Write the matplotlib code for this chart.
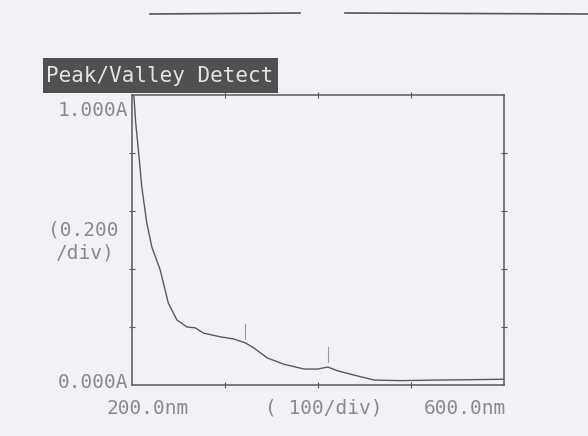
import matplotlib.pyplot as plt
from matplotlib.patches import Rectangle

# spectrum
wavelength = [200, 202, 204, 207.6, 210.5, 215.9, 221.3, 230.3, 239, 248.3, 259.1, 268,
              276.8, 295, 309, 322, 331, 345.6, 363, 385, 399.7, 410.5, 421, 439, 460.5,
              489.7, 525, 560, 600]
absorbance = [1.0, 1.0, 0.903, 0.786, 0.683, 0.559, 0.476, 0.397, 0.283, 0.224, 0.2, 0.197,
              0.179, 0.166, 0.159, 0.145, 0.128, 0.093, 0.072, 0.055, 0.055, 0.062, 0.049,
              0.034, 0.017, 0.015, 0.017, 0.018, 0.02]
peaks = [322, 411]
peak_marks = [(0.16, 0.21), (0.08, 0.13)]

ink = '#5a5a5a'
txt = '#8a8a8a'
mono = 'DejaVu Sans Mono'

fig = plt.figure(figsize=(5.88, 4.36), dpi=100)
fig.patch.set_facecolor('#f2f2f6')
ax = fig.add_axes([132/588, 51/436, 372/588, 290/436])
ax.set_facecolor('#f2f2f6')

ax.plot(wavelength, absorbance, color=ink, lw=1.0)
for p, (lo, hi) in zip(peaks, peak_marks):
    ax.plot([p, p], [lo, hi], color='#9a9a9a', lw=0.8)

ax.set_xlim(200, 600)
ax.set_ylim(0, 1.0)
ax.set_xticks([300, 400, 500])
ax.set_yticks([0.2, 0.4, 0.6, 0.8])
ax.tick_params(direction='inout', length=5, width=0.8, color=ink,
               top=True, right=True, labelleft=False, labelbottom=False)
for s in ax.spines.values():
    s.set_color(ink)
    s.set_linewidth(1.1)

# header box
fig.add_artist(Rectangle((43/588, 1 - 93/436), 235/588, 35/436,
                         transform=fig.transFigure, fc='#505050', ec='none'))
fig.text(160/588, 1 - 76/436, 'Peak/Valley Detect', fontsize=15, family=mono,
         color='#e4e4e4', va='center', ha='center')

# printer-style labels
lab = dict(fontsize=14, family=mono, color=txt, va='center')
fig.text(128/588, 1 - 110/436, '1.000A', ha='right', **lab)
fig.text(48/588, 1 - 230/436, '(0.200', ha='left', **lab)
fig.text(55/588, 1 - 253/436, '/div)', ha='left', **lab)
fig.text(128/588, 1 - 382/436, '0.000A', ha='right', **lab)
fig.text(106/588, 1 - 408/436, '200.0nm', ha='left', **lab)
fig.text(265/588, 1 - 408/436, '( 100/div)', ha='left', **lab)
fig.text(506/588, 1 - 408/436, '600.0nm', ha='right', **lab)

# stray rule at top of the scanned page
fig.add_artist(plt.Line2D([150/588, 300/588], [1 - 14/436, 1 - 13/436],
                          color='#555555', lw=1.2))
fig.add_artist(plt.Line2D([345/588, 588/588], [1 - 13/436, 1 - 14/436],
                          color='#555555', lw=1.2))

fig.savefig('out.png', dpi=100, facecolor=fig.get_facecolor())
